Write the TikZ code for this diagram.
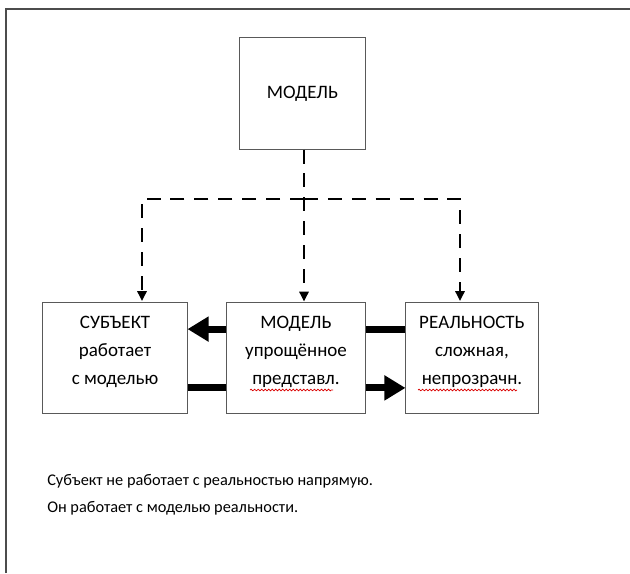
\documentclass[tikz,border=0pt]{standalone}
\usepackage{fontspec}
\setmainfont{Carlito}
\usetikzlibrary{arrows.meta,positioning,decorations.pathmorphing}

\tikzset{
  box/.style={draw=black!65, line width=0.7pt, minimum height=2.775cm, inner sep=0pt},
  boxtext/.style={align=center, font=\fontsize{13.5}{19.9}\selectfont},
  notetext/.style={align=left, font=\fontsize{11.6}{19.1}\selectfont},
  dashline/.style={line width=2pt, dash pattern=on 10pt off 7pt},
  dasharrow/.style={dashline, -{Triangle[length=7pt,width=6.5pt]}},
  fatline/.style={line width=5pt},
  fatarrow/.style={line width=5pt, -{Triangle[length=15pt,width=17pt]}},
  squiggle/.style={red!85!black, line width=0.5pt, decorate, decoration={snake,amplitude=0.6pt,segment length=2.5pt}}
}

\begin{document}
\begin{tikzpicture}[x=0.025cm,y=-0.025cm]
            \useasboundingbox (0,0) rectangle (630,573);
            \draw[black!70, line width=1pt] (6,573) -- (6,9) -- (630,9);

            \node[box, minimum width=3.125cm] (top) at (302.5,93.5) {};
            \node[boxtext] (topT) at (top) {МОДЕЛЬ};

            \node[box, minimum width=3.6cm] (subj) at (115,357.5) {};
            \node[box, minimum width=3.45cm] (model) at (296,357.5) {};
            \node[box, minimum width=3.3cm] (real) at (472,357.5) {};
            \node[boxtext] (subjT) at ([yshift=0.15cm]subj.center) {СУБЪЕКТ\\работает\\с моделью};
            \node[boxtext] (modelT) at ([yshift=0.15cm]model.center) {МОДЕЛЬ\\упрощённое\\представл.};
            \node[boxtext] (realT) at ([yshift=0.15cm]real.center) {РЕАЛЬНОСТЬ\\сложная,\\непрозрачн.};

            \coordinate (split) at (304,199);
            \coordinate (subjIn) at (142,301);
            \coordinate (realIn) at (460,301);
            \draw[dasharrow] (top.south -| split) -- (split |- model.north);
            \draw[dasharrow] (split) -| (subjIn);
            \draw[dasharrow] (split) -| (realIn);

            \draw[fatarrow] ([yshift=0.71cm]model.west) -- ([yshift=0.71cm]subj.east);
            \draw[fatline] ([yshift=0.71cm]real.west) -- ([yshift=0.71cm]model.east);
            \draw[fatline] ([yshift=-0.76cm]subj.east) -- ([yshift=-0.76cm]model.west);
            \draw[fatarrow] ([yshift=-0.76cm]model.east) -- ([yshift=-0.76cm]real.west);

            \draw[squiggle] (250,390) -- (333,390);
            \draw[squiggle] (418,390) -- (517,390);

            \node[notetext, anchor=base west, inner sep=0pt] (note) at (47,512) {Субъект не работает с реальностью напрямую.\\Он работает с моделью реальности.};
        \end{tikzpicture}
\end{document}
